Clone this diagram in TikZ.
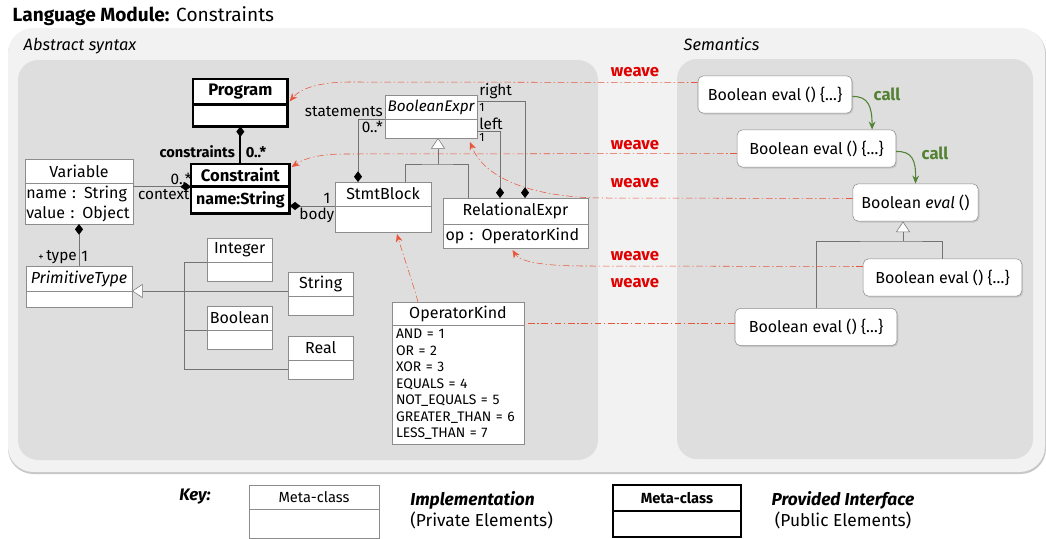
\documentclass[tikz,border=0pt]{standalone}
\usepackage{fontspec}
\setmainfont{Fira Sans}
\usetikzlibrary{positioning,calc,arrows.meta,shadows}
\definecolor{panelout}{RGB}{242,242,242}
\definecolor{panelin}{RGB}{222,222,222}
\definecolor{weavered}{RGB}{232,86,58}
\definecolor{weavetext}{RGB}{224,0,0}
\definecolor{callgreen}{RGB}{84,130,53}
\definecolor{boxgray}{RGB}{140,140,140}
\definecolor{linegray}{RGB}{115,115,115}
\begin{document}
\begin{tikzpicture}[x=0.75pt,y=-0.75pt,
  cls/.style={draw=boxgray,fill=white,outer sep=0pt,inner sep=1pt,font=\fontsize{12}{14}\selectfont},
  pub/.style={draw=black,line width=2pt,fill=white,outer sep=0pt,inner sep=1pt,font=\bfseries\fontsize{12.5}{14}\selectfont},
  sem/.style={draw=boxgray,fill=white,rounded corners=4pt,minimum height=28pt,font=\fontsize{12}{14}\selectfont,
    drop shadow={shadow xshift=1pt,shadow yshift=-1pt,opacity=.25}},
  umlline/.style={draw=linegray},
  assoc/.style={draw=linegray,{Diamond[length=8pt,width=6pt,color=black]}-},
  gen/.style={draw=linegray,{Triangle[length=8pt,width=10.5pt,fill=white]}-},
  weave/.style={draw=weavered,dash pattern=on 5pt off 2pt on 1pt off 2pt,-{Stealth[length=6pt,width=5pt]}},
  weavelbl/.style={text=weavetext,font=\bfseries\fontsize{12.5}{14}\selectfont},
  call/.style={draw=callgreen,thick,-{Stealth[length=6pt,width=5pt]}},
  calllbl/.style={text=callgreen,font=\bfseries\fontsize{12.5}{14}\selectfont},
  lbl/.style={inner sep=1.5pt,font=\fontsize{11.5}{13}\selectfont},
  small/.style={inner sep=1.5pt,font=\fontsize{9}{10}\selectfont}]
\useasboundingbox (0,0) rectangle (1046,539);
\fill[black!22,rounded corners=19pt] (8,29) rectangle (1046,474);
\fill[panelout,rounded corners=19pt] (8,28) rectangle (1045,472);
\fill[panelin,rounded corners=15pt] (18,60) rectangle (598,460);
\fill[panelin,rounded corners=15pt] (677,59) rectangle (1033,459);
\node[anchor=west,font=\fontsize{14.3}{16}\selectfont] (title) at (8,16) {\textbf{Language Module:} Constraints};
\node[anchor=west,font=\itshape\fontsize{12.3}{14}\selectfont] (absT) at (19,46) {Abstract syntax};
\node[anchor=west,font=\itshape\fontsize{12.3}{14}\selectfont] (semT) at (679,44) {Semantics};

% abstract syntax
\node[pub,minimum width=71pt,minimum height=19pt,anchor=north west] (prgH) at (193,79) {Program};
\node[pub,minimum width=71pt,minimum height=16.5pt,below=0pt of prgH] (prgB) {};
\node[pub,minimum width=74pt,minimum height=17pt,anchor=north west] (cstH) at (191,164) {Constraint};
\node[pub,minimum width=74pt,minimum height=20pt,below=0pt of cstH,font=\bfseries\fontsize{12}{14}\selectfont] (cstB) {name:String};
\node[cls,minimum width=81pt,minimum height=18pt,anchor=north west] (varH) at (25,159) {Variable};
\node[cls,minimum width=81pt,minimum height=30.75pt,below=0pt of varH,align=left,text width=79pt,inner xsep=1pt,
  font=\fontsize{12}{15}\selectfont] (varB) {name : String\\value : Object};
\node[cls,minimum width=79.5pt,minimum height=18.75pt,anchor=north west,font=\itshape\fontsize{12}{14}\selectfont] (primH) at (26,266) {PrimitiveType};
\node[cls,minimum width=79.5pt,minimum height=12pt,below=0pt of primH] (primB) {};
\node[cls,minimum width=49pt,minimum height=18pt,anchor=north west] (intH) at (207,238) {Integer};
\node[cls,minimum width=49pt,minimum height=14.25pt,below=0pt of intH] (intB) {};
\node[cls,minimum width=49pt,minimum height=18pt,anchor=north west] (strH) at (288,272) {String};
\node[cls,minimum width=49pt,minimum height=14.25pt,below=0pt of strH] (strB) {};
\node[cls,minimum width=49pt,minimum height=18pt,anchor=north west] (boolH) at (207,306) {Boolean};
\node[cls,minimum width=49pt,minimum height=14.25pt,below=0pt of boolH] (boolB) {};
\node[cls,minimum width=49pt,minimum height=18pt,anchor=north west] (realH) at (288,336) {Real};
\node[cls,minimum width=49pt,minimum height=14.25pt,below=0pt of realH] (realB) {};
\node[cls,minimum width=69pt,minimum height=18pt,anchor=north west,font=\itshape\fontsize{11.5}{13}\selectfont] (bexH) at (385,95) {BooleanExpr};
\node[cls,minimum width=69pt,minimum height=14.25pt,below=0pt of bexH] (bexB) {};
\node[cls,minimum width=72pt,minimum height=18pt,anchor=north west] (stmtH) at (335,182) {StmtBlock};
\node[cls,minimum width=72pt,minimum height=19.5pt,below=0pt of stmtH] (stmtB) {};
\node[cls,minimum width=108.75pt,minimum height=19.5pt,anchor=north west] (relH) at (443,198) {RelationalExpr};
\node[cls,minimum width=108.75pt,minimum height=18pt,below=0pt of relH,align=left,text width=105pt,inner xsep=1.875pt] (relB) {op : OperatorKind};
\node[cls,minimum width=99pt,minimum height=17.25pt,anchor=north west] (opkH) at (392,302) {OperatorKind};
\node[cls,minimum width=99pt,minimum height=89.25pt,below=0pt of opkH,align=left,text width=93pt,inner xsep=3pt,
  font=\fontsize{10.4}{12.4}\selectfont] (opkB)
  {AND = 1\\OR = 2\\XOR = 3\\EQUALS = 4\\NOT\_EQUALS = 5\\GREATER\_THAN = 6\\LESS\_THAN = 7};

\draw[assoc,draw=black,line width=1.5pt] (prgB.south) -- node[pos=0.68,left,font=\bfseries\fontsize{11}{12}\selectfont] (cnsL) {constraints}
  node[pos=0.68,right,font=\bfseries\fontsize{11}{12}\selectfont] (cnsM) {0..*} (cstH.north);
\draw[assoc] (cstB.north west) -- node[pos=0.17,above,lbl] (ctxM) {0..*} node[pos=0.47,below,lbl] (ctxL) {context} (cstB.north west -| varH.east);
\draw[assoc] (stmtB.north west -| cstB.east) -- node[pos=0.82,above,lbl] (bodyM) {1} node[pos=0.6,below,lbl] (bodyL) {body} (stmtB.north west);
\draw[assoc] (varB.south) -- node[pos=0.78,left,lbl] (typeL) {{\fontsize{8}{9}\selectfont+}\,type} node[pos=0.78,right,lbl] (typeM) {1} (primH.north);
\coordinate (ptr) at (184,293);
\draw[gen] (primB.north east) -- (primB.north east -| strH.west);
\draw[umlline] (intH.south west) -- (intH.south west -| ptr) -- (realB.west -| ptr) -- (realB.west);
\draw[umlline] (boolH.south west) -- (boolH.south west -| ptr);
\draw[assoc] ($(stmtH.north west)+(23,0)$) |- node[pos=1,above left,lbl] (stmL) {statements} node[pos=1,below left,lbl] (stmM) {0..*} (bexH.south west);
\coordinate (bbar) at (438,164);
\draw[gen] (bexB.south -| bbar) -- (bbar);
\draw[umlline] ($(stmtH.north west)+(70,0)$) |- (bbar) -| ($(relH.north west)+(25,0)$);
\draw[assoc] ($(relH.north west)+(57,0)$) |- node[pos=1,above right,lbl] (leftL) {left} node[pos=1,below right,small] (leftM) {1} ($(bexB.east)+(0,3)$);
\draw[assoc] ($(relH.north west)+(82,0)$) |- node[pos=1,above right,lbl] (rightL) {right} node[pos=1,below right,small] (rightM) {1} ($(bexH.north east)+(0,6)$);

% semantics
\node[sem,minimum width=115.5pt] (ev1) at (775,94.5) {Boolean eval () \{…\}};
\node[sem,minimum width=119pt] (ev2) at (816.5,148.5) {Boolean eval () \{…\}};
\node[sem,minimum width=94pt] (ev3) at (915.5,202.5) {Boolean \textit{eval} ()};
\node[sem,minimum width=119pt] (ev4) at (942.5,277.5) {Boolean eval () \{…\}};
\node[sem,minimum width=121.5pt] (ev5) at (816,327) {Boolean eval () \{…\}};
\coordinate (ebar) at (903,241);
\draw[gen] (ev3.south -| ebar) -- (ebar);
\draw[umlline] (ev5.north) |- (ebar) -| (ev4.north);
\draw[call] ($(ev1.east)+(0,2)$) .. controls (868,96) and (872,106) .. ($(ev2.north east)+(-24,0)$);
\draw[call] ($(ev2.east)+(0,3)$) .. controls (912,151) and (916,160) .. (ev3.north);
\node[calllbl] (call1) at (887,94) {call};
\node[calllbl] (call2) at (935,153) {call};

% weaving
\draw[weave] ($(ev1.west)+(0,-12)$) -- (350,82) .. controls (318,82) and (300,89) .. ($(prgB.north east)+(2,-3)$);
\draw[weave] ($(ev2.west)+(0,5)$) -- (345,154) .. controls (315,154) and (302,160) .. ($(cstH.north east)+(2,3)$);
\draw[weave] ($(ev3.west)+(0,-4)$) -- (600,198) .. controls (535,197) and (485,180) .. ($(bexB.south east)+(-7,4)$);
\draw[weave] ($(ev4.west)+(0,-11)$) -- (585,266) .. controls (545,266) and (520,262) .. ($(relB.south)+(-3,2)$);
\draw[weave,-] ($(ev5.west)+(0,-4)$) -- ($(opkH.south east)+(0,-2)$);
\draw[weave] ($(opkH.north west)+(26,0)$) .. controls (412,280) and (403,255) .. ($(stmtB.south)+(14,2)$);
\node[weavelbl] (wv1) at (635,72) {weave};
\node[weavelbl] (wv2) at (635,145) {weave};
\node[weavelbl] (wv3) at (635,183) {weave};
\node[weavelbl] (wv4) at (635,256) {weave};
\node[weavelbl] (wv5) at (635,283) {weave};

% key
\node[font=\bfseries\itshape\fontsize{12.5}{14}\selectfont] (keyT) at (195,497) {Key:};
\node[cls,minimum width=97.5pt,minimum height=18pt,anchor=north west,font=\fontsize{11}{12}\selectfont] (keyAH) at (249,485) {Meta-class};
\node[cls,minimum width=97.5pt,minimum height=21.75pt,below=0pt of keyAH] (keyAB) {};
\node[anchor=west,align=left,inner sep=0pt,font=\fontsize{13}{15.75}\selectfont] (implT) at (410,510.5) {\textbf{\textit{Implementation}}\\(Private Elements)};
\node[pub,minimum width=96pt,minimum height=19.5pt,anchor=north west,font=\bfseries\fontsize{11}{12}\selectfont] (keyBH) at (613,485) {Meta-class};
\node[pub,minimum width=96pt,minimum height=19.5pt,below=0pt of keyBH] (keyBB) {};
\node[align=center,inner sep=0pt,font=\fontsize{13}{15.75}\selectfont] (provT) at (843,510.5) {\textbf{\textit{Provided Interface}}\\(Public Elements)};
\end{tikzpicture}
\end{document}
